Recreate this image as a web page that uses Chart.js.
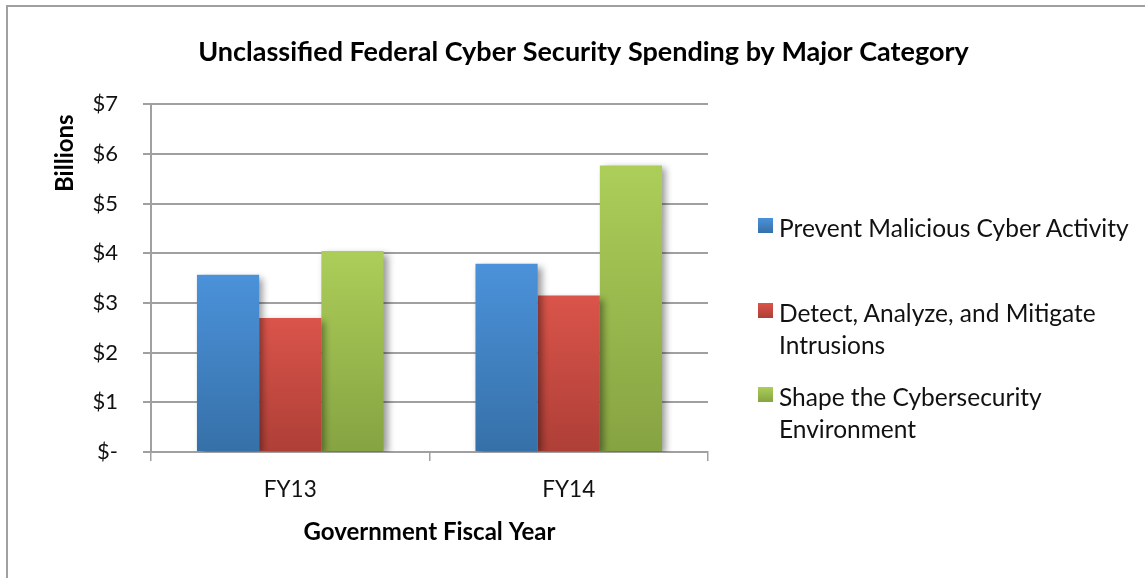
<!DOCTYPE html>
<html>
<head>
<meta charset="utf-8">
<script src="https://cdn.jsdelivr.net/npm/chart.js@4/dist/chart.umd.min.js"></script>
<style>
    html, body { margin: 0; padding: 0; background: #fff; overflow: hidden; }
    #wrap { position: relative; width: 1145px; height: 578px; }
    #frame { position: absolute; left: 6px; top: 5px; width: 1200px; height: 700px; border: 2px solid #a0a0a0; }
    #legend { position: absolute; left: 758px; top: 0; font-family: Lato, sans-serif; font-size: 24.5px; color: #111; }
    .item { position: absolute; left: 0; width: 390px; line-height: 32px; }
    .box { position: absolute; left: 0; top: 6px; width: 15px; height: 15px; }
    .txt { position: absolute; left: 21px; white-space: nowrap; }
</style>
</head>
<body>
<div id="wrap">
    <div id="frame"></div>
    <canvas id="chart" width="1145" height="578"></canvas>
    <div id="legend"></div>
</div>
<script>
const categories = ['FY13', 'FY14'];
const seriesNames = ['Prevent Malicious Cyber Activity', 'Detect, Analyze, and Mitigate Intrusions', 'Shape the Cybersecurity Environment'];
const legendLines = [['Prevent Malicious Cyber Activity'], ['Detect, Analyze, and Mitigate', 'Intrusions'], ['Shape the Cybersecurity', 'Environment']];
const preventValues = [3.57, 3.79];
const detectValues = [2.70, 3.15];
const shapeValues = [4.05, 5.77];
const yTicks = [0, 1, 2, 3, 4, 5, 6, 7];

// top / bottom colour of each bar gradient
const SERIES_COLORS = [
    ['#4b92da', '#3670a8'],
    ['#da544a', '#ae3f37'],
    ['#acce59', '#86a342']
];

const FONT = 'Lato, sans-serif';

function barGradient(idx) {
    return (context) => {
        const chart = context.chart;
        const cols = SERIES_COLORS[idx];
        if (!chart.chartArea || !chart.scales.y) return cols[0];
        const top = chart.scales.y.getPixelForValue(context.raw);
        const bottom = chart.scales.y.getPixelForValue(0);
        const g = chart.ctx.createLinearGradient(0, top, 0, bottom);
        g.addColorStop(0, cols[0]);
        g.addColorStop(1, cols[1]);
        return g;
    };
}

const barShadow = {
    id: 'barShadow',
    beforeDatasetsDraw(chart) {
        const ctx = chart.ctx;
        ctx.save();
        ctx.shadowColor = 'rgba(0,0,0,0.4)';
        ctx.shadowBlur = 7;
        ctx.shadowOffsetX = 4;
        ctx.shadowOffsetY = 3;
    },
    afterDatasetsDraw(chart) {
        chart.ctx.restore();
    }
};

// y axis title sits near the top of the axis, a bit below the $7 line
const yTitle = {
    id: 'yTitle',
    afterDraw(chart) {
        const ctx = chart.ctx;
        ctx.save();
        ctx.translate(65, chart.chartArea.top + 10);
        ctx.rotate(-Math.PI / 2);
        ctx.font = 'bold 24px ' + FONT;
        ctx.fillStyle = '#000';
        ctx.textAlign = 'right';
        ctx.textBaseline = 'middle';
        ctx.fillText('Billions', 0, 0);
        ctx.restore();
    }
};

const allValues = [preventValues, detectValues, shapeValues];
const datasets = seriesNames.map((name, i) => ({
    label: name,
    data: allValues[i],
    yAxisID: 'y',
    backgroundColor: barGradient(i),
    borderWidth: 0,
    categoryPercentage: 0.67,
    barPercentage: 1.0
}));

new Chart(document.getElementById('chart'), {
    type: 'bar',
    data: { labels: categories, datasets: datasets },
    plugins: [barShadow, yTitle],
    options: {
        responsive: false,
        animation: false,
        layout: { padding: { left: 22, right: 0, top: 30, bottom: 30 } },
        plugins: {
            legend: { display: false },
            tooltip: { enabled: false },
            title: {
                display: true,
                text: 'Unclassified Federal Cyber Security Spending by Major Category',
                color: '#000',
                font: { family: FONT, size: 27, weight: 'bold' },
                padding: { top: 6, bottom: 36 },
                align: 'center'
            }
        },
        scales: {
            x: {
                offset: true,
                grid: { display: true, offset: true, drawOnChartArea: false, drawTicks: true, tickLength: 9, color: '#a0a0a0', lineWidth: 1.5 },
                border: { display: true, color: '#a0a0a0', width: 2 },
                ticks: { color: '#111', font: { family: FONT, size: 22.5 }, padding: 15 },
                title: { display: true, text: 'Government Fiscal Year', color: '#000', font: { family: FONT, size: 24, weight: 'bold' }, padding: { top: 8, bottom: 1 } },
                afterFit(scale) { scale.height = 96; }
            },
            y: {
                min: 0,
                max: 7,
                afterBuildTicks(scale) { scale.ticks = yTicks.map(v => ({ value: v })); },
                grid: { color: '#a0a0a0', lineWidth: 2, tickLength: 8 },
                border: { display: true, color: '#a0a0a0', width: 2 },
                ticks: {
                    color: '#111',
                    font: { family: FONT, size: 22 },
                    padding: 25,
                    callback: (v) => v === 0 ? '$-' : '$' + v
                },
                afterFit(scale) { scale.width = 129; }
            },
            // empty axis on the right keeps room for the legend
            legendSpace: {
                type: 'linear',
                position: 'right',
                grid: { display: false },
                border: { display: false },
                ticks: { display: false },
                afterFit(scale) { scale.width = 437; }
            }
        }
    }
});

// legend on the right, built from the same series
const legendTops = [212, 297, 381];
const legend = document.getElementById('legend');
seriesNames.forEach((name, i) => {
    const item = document.createElement('div');
    item.className = 'item';
    item.style.top = legendTops[i] + 'px';
    const box = document.createElement('div');
    box.className = 'box';
    box.style.background = 'linear-gradient(' + SERIES_COLORS[i][0] + ', ' + SERIES_COLORS[i][1] + ')';
    const txt = document.createElement('div');
    txt.className = 'txt';
    legendLines[i].forEach((line, j) => {
        if (j > 0) txt.appendChild(document.createElement('br'));
        txt.appendChild(document.createTextNode(line));
    });
    item.appendChild(box);
    item.appendChild(txt);
    legend.appendChild(item);
});
</script>
</body>
</html>
